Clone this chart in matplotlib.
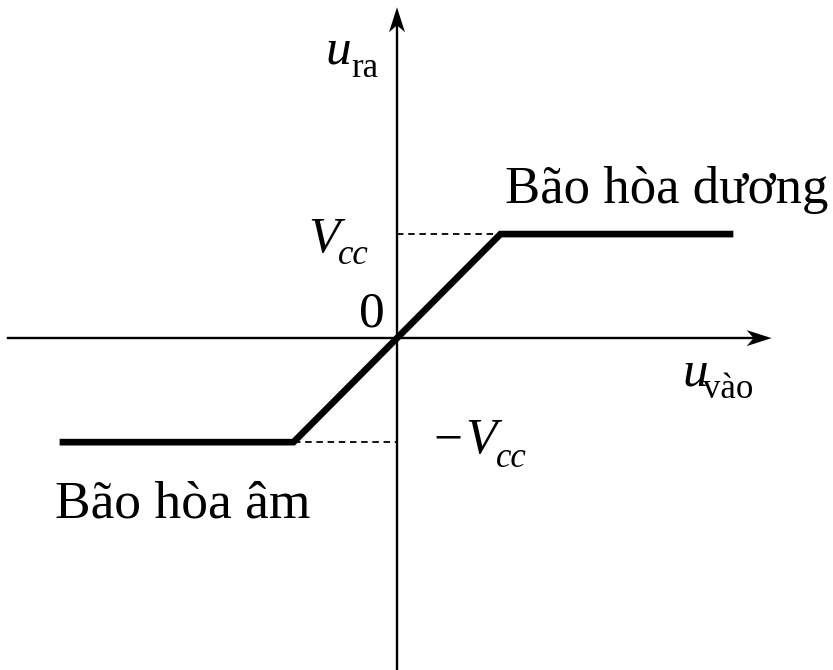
import matplotlib.pyplot as plt
from matplotlib import rcParams
from matplotlib.patches import Polygon
from matplotlib.transforms import IdentityTransform

rcParams['font.family'] = ['Liberation Serif', 'DejaVu Serif']

# transfer characteristic: input vs output (units of Vcc)
u_in = [-3.26, -1.0, 1.0, 3.25]
u_out = [-1.0, -1.0, 1.0, 1.0]
vcc = 1.0
label_pos = "Bão hòa dương"
label_neg = "Bão hòa âm"

fig = plt.figure(figsize=(8.33, 6.70), dpi=100)
ax = fig.add_axes([0, 0, 1, 1])
ax.set_xlim(-3.836, 4.213)
ax.set_ylim(-3.19, 3.25)
ax.axis('off')


def arrow_head(x, y, up):
    # stealth-style head, sizes in pixels
    tx, ty = ax.transData.transform((x, y))
    L, W, N = 25, 8, 18
    if up:
        pts = [(0, 0), (-W, -L), (0, -N), (W, -L)]
    else:
        pts = [(0, 0), (-L, W), (-N, 0), (-L, -W)]
    pts = [(tx + a, ty + b) for a, b in pts]
    ax.add_patch(Polygon(pts, closed=True, color='black', lw=0,
                         transform=IdentityTransform()))


x_end, y_end = 3.62, 3.18
ax.plot([-3.76, x_end - 0.15], [0, 0], lw=1.7, color='black')
ax.plot([0, 0], [-3.19, y_end - 0.15], lw=1.7, color='black')
arrow_head(x_end, 0, up=False)
arrow_head(0, y_end, up=True)

# dashed guides
ax.plot([0, u_in[2]], [vcc, vcc], ls=(0, (3.6, 2.6)), lw=1.3, color='black')
ax.plot([u_in[1], 0], [-vcc, -vcc], ls=(0, (3.6, 2.6)), lw=1.3, color='black')

# characteristic
ax.plot(u_in, u_out, lw=4.8, color='black', solid_joinstyle='miter',
        solid_capstyle='butt')

fs, fsub = 37, 25


def sym(x, y, main, sub, xs, ys):
    ax.text(x, y, main, fontsize=fs, style='italic', ha='left', va='baseline')
    ax.text(xs, ys, sub, fontsize=fsub, style=('italic' if sub == 'cc' else 'normal'),
            ha='left', va='baseline')


sym(-0.696, 2.644, 'u', 'ra', -0.444, 2.510)
sym(-0.860, 0.827, 'V', 'cc', -0.57, 0.712)
sym(2.754, -0.452, 'u', 'vào', 2.957, -0.577)
ax.text(0.348, -1.106, '\u2212', fontsize=fs, ha='left', va='baseline')
sym(0.657, -1.106, 'V', 'cc', 0.955, -1.240)
ax.text(-0.116, 0.115, '0', fontsize=fs, ha='right', va='baseline')

ax.text(1.043, 1.298, label_pos, fontsize=38, ha='left', va='baseline')
ax.text(-3.304, -1.721, label_neg, fontsize=38.5, ha='left', va='baseline')

fig.savefig('out.png', dpi=100)
